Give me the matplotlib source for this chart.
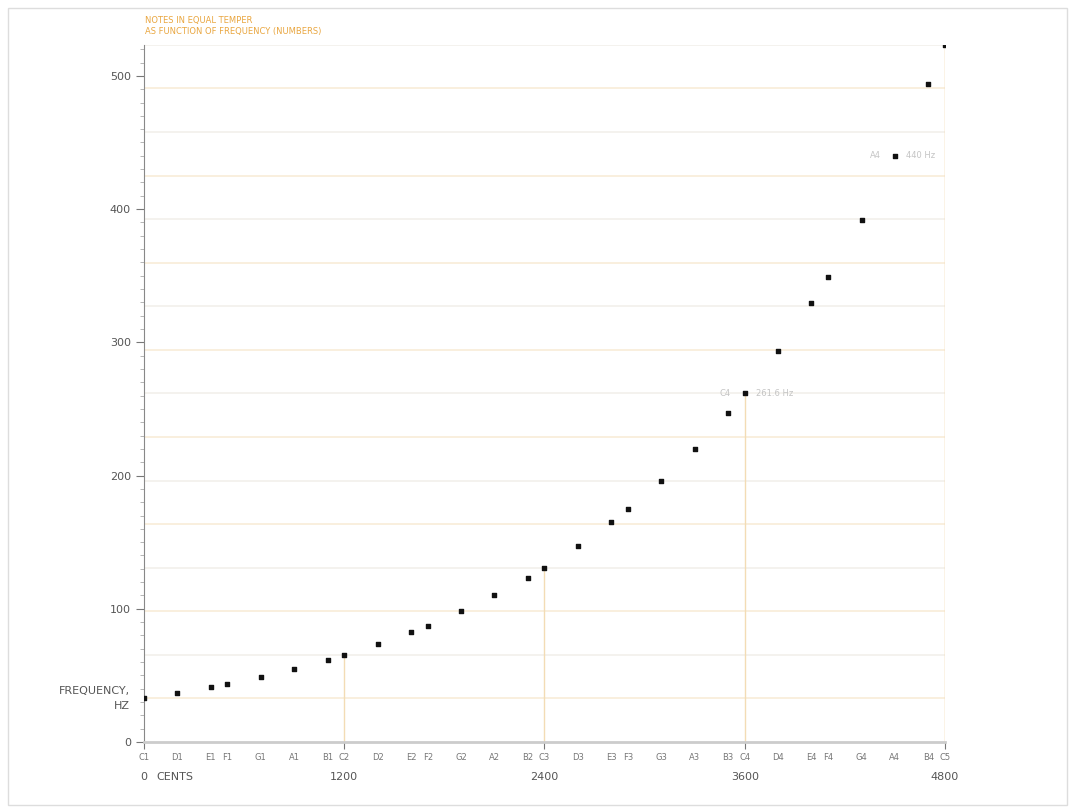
import matplotlib
matplotlib.use("Agg")
import matplotlib.pyplot as plt
import matplotlib.transforms as mtransforms
from matplotlib.ticker import MultipleLocator

notes = ["C1", "D1", "E1", "F1", "G1", "A1", "B1",
         "C2", "D2", "E2", "F2", "G2", "A2", "B2",
         "C3", "D3", "E3", "F3", "G3", "A3", "B3",
         "C4", "D4", "E4", "F4", "G4", "A4", "B4", "C5"]
cents = [0, 200, 400, 500, 700, 900, 1100,
         1200, 1400, 1600, 1700, 1900, 2100, 2300,
         2400, 2600, 2800, 2900, 3100, 3300, 3500,
         3600, 3800, 4000, 4100, 4300, 4500, 4700, 4800]
freqs = [32.70, 36.71, 41.20, 43.65, 49.00, 55.00, 61.74,
         65.41, 73.42, 82.41, 87.31, 98.00, 110.00, 123.47,
         130.81, 146.83, 164.81, 174.61, 196.00, 220.00, 246.94,
         261.63, 293.66, 329.63, 349.23, 392.00, 440.00, 493.88, 523.25]
# harmonics of C1, used as the faint horizontal guide lines
harmonics = [32.70, 65.41, 98.11, 130.81, 163.52, 196.22, 228.92, 261.63,
             294.33, 327.03, 359.73, 392.44, 425.14, 457.84, 490.55, 523.25]
cent_ticks = [0, 1200, 2400, 3600, 4800]
callouts = {"C4": "261.6 Hz", "A4": "440 Hz"}

grey = "#777777"
orange = "#e9a640"

fig = plt.figure(figsize=(10.75, 8.09), dpi=100)
ax = fig.add_axes([0.134, 0.0828, 0.745, 0.8617])

for i, h in enumerate(harmonics):
    col = "#f8ebd5" if i % 2 == 0 else "#f1efea"
    ax.axhline(h, color=col, lw=1.1, zorder=0)
ax.axvline(4800, color="#f5e2c2", lw=1, zorder=0)

# vertical drop lines at the C notes
for n, c, f in zip(notes, cents, freqs):
    if n.startswith("C") and c > 0:
        ax.plot([c, c], [0, f], color="#f3dcb5", lw=1, zorder=1)

ax.scatter(cents, freqs, marker="s", s=9, color="#111111", zorder=3)

for n, c, f in zip(notes, cents, freqs):
    if n in callouts:
        ax.annotate(n, (c, f), xytext=(-10, 0), textcoords="offset points",
                    ha="right", va="center", fontsize=6, color="#c4c4c4")
        ax.annotate(callouts[n], (c, f), xytext=(8, 0), textcoords="offset points",
                    ha="left", va="center", fontsize=6, color="#c4c4c4")

ax.set_xlim(0, 4800)
ax.set_ylim(0, 523.25)

for s in ["top", "right"]:
    ax.spines[s].set_visible(False)
ax.spines["left"].set_color("#888888")
ax.spines["bottom"].set_color("#cccccc")
ax.spines["bottom"].set_linewidth(2)

ax.yaxis.set_major_locator(MultipleLocator(100))
ax.yaxis.set_minor_locator(MultipleLocator(10))
ax.tick_params(axis="y", which="major", length=6, color=grey, labelsize=8, labelcolor="#555555")
ax.tick_params(axis="y", which="minor", length=3, color="#aaaaaa")

ax.set_xticks(cent_ticks)
ax.set_xticklabels([])
ax.tick_params(axis="x", length=5, color=grey)

trans = mtransforms.blended_transform_factory(ax.transData, ax.transAxes)
for n, c in zip(notes, cents):
    ax.text(c, -0.022, n, transform=trans, ha="center", va="center",
            fontsize=6, color=grey)
for c in cent_ticks:
    ax.text(c, -0.05, str(c), transform=trans, ha="center", va="center",
            fontsize=8, color="#555555")
ax.text(0.015, -0.05, "CENTS", transform=ax.transAxes, ha="left", va="center",
        fontsize=8, color="#555555")

ax.text(-0.018, 0.062, "FREQUENCY,\nHZ", transform=ax.transAxes, ha="right",
        va="center", fontsize=8, color="#555555", linespacing=1.6)

fig.text(0.135, 0.968, "NOTES IN EQUAL TEMPER\nAS FUNCTION OF FREQUENCY (NUMBERS)",
         ha="left", va="center", fontsize=6, color=orange, linespacing=1.3)

fig.patches.append(plt.Rectangle((0.007, 0.005), 0.986, 0.985, transform=fig.transFigure,
                                 fill=False, edgecolor="#dddddd", lw=1))

fig.savefig("out.png", dpi=100)
